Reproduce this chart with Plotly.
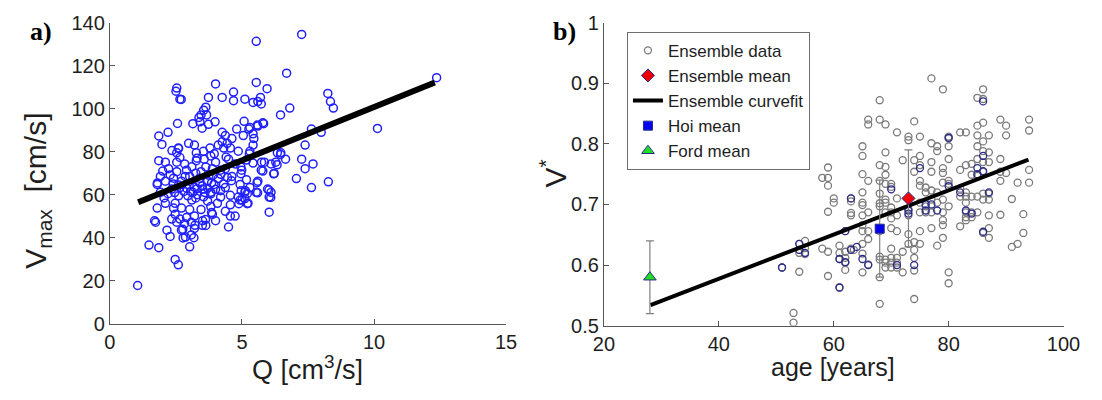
import plotly.graph_objects as go

# ---------------- data: panel a ----------------
Q_vals = [
    2.53, 2.50, 2.65, 4.00, 4.25, 3.73, 3.63, 3.55, 3.45, 3.37, 3.66, 3.14, 3.41, 3.49, 3.73, 3.98,
    2.56, 4.25, 4.25, 2.20, 1.85, 1.97, 2.59, 2.98, 3.20, 3.27, 3.54, 3.79, 4.10, 4.31, 2.53, 2.65,
    2.53, 2.83, 1.85, 2.10, 2.22, 1.91, 2.28, 2.53, 2.90, 3.27, 3.57, 3.82, 4.00, 3.63, 3.45, 3.88,
    4.19, 1.79, 2.10, 2.41, 2.71, 3.02, 3.39, 1.91, 2.34, 2.65, 3.14, 3.51, 3.82, 4.19, 3.94, 3.70,
    6.69, 5.54, 5.95, 4.68, 4.68, 5.11, 5.42, 5.60, 5.70, 5.73, 6.81, 6.46, 7.63, 7.39, 5.08, 4.80,
    5.30, 5.60, 5.82, 5.05, 4.62, 5.45, 5.42, 4.37, 4.44, 4.56, 4.86, 5.30, 4.49, 4.74, 4.37, 6.34,
    6.46, 6.65, 6.28, 6.10, 5.85, 5.73, 6.22, 7.26, 7.39, 7.69, 7.63, 7.06, 5.60, 5.17, 4.99, 4.62,
    4.93, 4.37, 5.30, 5.54, 5.97, 6.10, 4.86, 4.56, 8.00,
    1.05, 1.48, 1.85, 2.47, 2.59, 3.02, 1.69, 1.73, 1.79, 2.16, 2.28, 2.41, 2.47, 2.65, 2.90, 2.83,
    3.08, 3.20, 3.08, 2.71, 2.77, 2.53, 2.34, 2.10, 2.47, 2.71, 3.02, 3.20, 3.51, 3.63, 4.00, 3.88,
    3.45, 3.82, 4.07, 4.37, 3.82, 4.19,
    6.03, 4.49, 4.56, 4.74, 6.03, 5.11, 4.93, 5.23, 4.56, 5.11,
    5.54, 7.26, 8.25, 8.35, 8.46, 10.13, 12.37, 8.27,
    2.95, 3.10, 3.25, 2.80, 3.30, 3.55, 2.20, 2.60, 3.70, 3.00, 2.40, 3.40, 3.90, 4.10, 4.30, 2.00,
    3.10, 3.30, 4.40, 3.95, 5.26, 5.42, 5.58, 5.79, 2.70,
    5.20, 5.00, 4.88, 5.20, 5.13, 4.97, 4.96, 4.96, 5.57, 5.59, 5.74, 5.79, 5.42, 5.17, 5.28, 6.02,
    6.09, 6.20, 6.33, 6.47, 3.62, 3.50, 3.85, 3.18, 3.22, 2.76, 2.86, 3.20, 3.50, 3.70, 3.85, 3.30,
    3.60, 2.90, 3.05, 4.00, 4.20, 3.75, 2.85, 2.45, 2.60, 3.25, 2.35, 2.60, 1.80, 2.05, 4.60, 4.45,
]
Vmax_vals = [
    109.6, 108.1, 104.4, 111.5, 105.2, 105.2, 100.7, 99.3, 97.1, 95.9, 97.1, 93.0, 93.9, 90.9, 92.7, 93.9,
    93.1, 89.0, 84.6, 89.0, 87.3, 83.4, 81.7, 83.9, 83.1, 79.5, 80.2, 81.7, 83.1, 81.7, 79.5, 77.3,
    75.1, 74.3, 75.8, 75.1, 72.1, 68.5, 69.2, 70.7, 71.4, 75.8, 76.5, 78.0, 75.1, 72.9, 70.7, 72.1,
    71.4, 64.8, 66.3, 67.7, 66.3, 68.5, 67.7, 61.1, 62.6, 63.3, 61.1, 62.6, 61.1, 61.9, 64.8, 66.3,
    116.5, 112.2, 109.3, 107.7, 103.7, 104.4, 102.9, 103.3, 105.2, 102.2, 100.3, 97.1, 90.5, 83.1, 94.1, 90.5,
    91.2, 91.9, 93.0, 87.5, 86.1, 86.1, 83.1, 87.5, 83.9, 81.7, 80.2, 80.2, 76.5, 74.3, 72.1, 79.5,
    78.7, 76.5, 75.1, 74.3, 75.1, 71.4, 69.9, 76.5, 72.1, 74.3, 63.3, 67.5, 66.3, 67.0, 71.4, 68.5,
    64.8, 63.3, 63.3, 61.1, 62.6, 61.1, 58.9, 59.7, 89.0,
    17.8, 36.6, 35.4, 29.9, 27.4, 35.8, 47.9, 47.2, 53.8, 43.5, 40.6, 53.8, 50.9, 48.7, 49.4, 46.5,
    47.2, 44.3, 41.3, 43.5, 39.9, 47.2, 48.7, 56.0, 56.0, 53.8, 53.1, 50.1, 47.9, 45.7, 47.9, 50.9,
    53.1, 54.5, 56.0, 52.3, 60.4, 58.9,
    51.9, 45.0, 50.1, 50.1, 58.9, 61.1, 57.5, 56.0, 55.3, 58.2,
    131.3, 134.5, 107.1, 103.3, 100.3, 90.8, 114.4, 66.0,
    59.5, 57.5, 58.5, 61.5, 62.8, 59.0, 60.5, 59.5, 57.0, 64.5, 65.0, 65.5, 69.0, 67.5, 65.0, 71.0,
    73.0, 77.0, 77.5, 79.0, 90.5, 88.3, 92.4, 93.4, 104.3,
    55.8, 57.5, 55.8, 60.5, 61.9, 61.9, 69.8, 72.9, 65.6, 60.9, 75.1, 71.0, 74.7, 76.1, 79.1, 62.2,
    58.7, 69.7, 73.9, 79.5, 48.5, 45.8, 51.7, 40.0, 45.8, 43.9, 40.3, 63.5, 64.0, 63.0, 65.5, 60.0,
    61.0, 63.0, 61.5, 62.5, 69.5, 69.0, 68.5, 61.0, 64.5, 70.0, 80.5, 81.5, 65.5, 58.5, 66.5, 68.0,
]
fit_Q = [1.07, 12.3]
fit_Vmax = [56.5, 112.2]

# ---------------- data: panel b ----------------
age_vals = [
    51, 54, 54, 54, 55, 55, 55, 54, 53, 53,
    58, 59, 59, 59, 59, 58, 59, 59, 60, 60,
    61, 61, 62, 62, 62, 61, 61, 62, 62, 62,
    63, 63, 63, 63, 63, 63.5,
    65, 65, 65, 65, 65, 65, 65, 65, 65, 65, 65, 65,
    66, 66, 66, 66, 66, 66, 66,
    68, 68, 68, 68, 68, 68, 68, 68, 68, 68, 68, 68,
    69, 69, 69, 69, 69, 69, 69, 69, 69, 69, 69,
    70, 70, 70, 70, 70, 70, 70, 70, 70, 70,
    71, 71, 71, 71, 71, 71, 71,
    72, 72, 72,
    73, 73, 73, 73, 73, 73,
    74, 74, 74, 74, 74, 74, 74, 74,
    75, 75, 75, 75, 75, 75, 75, 75, 75,
    76, 76, 76, 76,
    77, 77, 77, 77, 77, 77, 77, 77,
    78, 78, 78, 78, 78,
    79, 79, 79, 79, 79, 79, 79, 79, 79,
    80, 80, 80, 80, 80, 80, 80, 80, 80,
    82, 82, 82, 82, 82,
    83, 83, 83, 83, 83, 83, 83, 83,
    84, 84, 84, 84, 84,
    85, 85, 85, 85, 85, 85, 85, 85,
    86, 86, 86, 86, 86, 86, 86, 86, 86, 86,
    87, 87, 87, 87, 87, 87, 87, 87,
    89, 89, 89, 89, 89,
    90, 90, 90,
    91, 91, 92, 93, 93, 92,
    94, 94, 94, 94,
]
vstar_vals = [
    0.596, 0.635, 0.625, 0.620, 0.640, 0.628, 0.618, 0.589, 0.521, 0.505,
    0.744, 0.744, 0.731, 0.761, 0.688, 0.627, 0.622, 0.582, 0.710, 0.703,
    0.632, 0.620, 0.622, 0.612, 0.604, 0.563, 0.610, 0.656, 0.592, 0.604,
    0.710, 0.705, 0.686, 0.682, 0.627, 0.625,
    0.796, 0.780, 0.750, 0.720, 0.703, 0.699, 0.682, 0.666, 0.656, 0.635, 0.619, 0.588,
    0.840, 0.832, 0.739, 0.687, 0.656, 0.643, 0.601,
    0.872, 0.840, 0.765, 0.739, 0.718, 0.702, 0.697, 0.656, 0.614, 0.609, 0.580, 0.536,
    0.832, 0.786, 0.762, 0.749, 0.734, 0.708, 0.703, 0.687, 0.609, 0.604, 0.596,
    0.734, 0.729, 0.695, 0.687, 0.661, 0.627, 0.612, 0.604, 0.596, 0.677,
    0.819, 0.710, 0.682, 0.656, 0.612, 0.604, 0.596,
    0.773, 0.622, 0.588,
    0.812, 0.806, 0.692, 0.682, 0.651, 0.635,
    0.837, 0.773, 0.754, 0.638, 0.625, 0.612, 0.591, 0.544,
    0.812, 0.780, 0.765, 0.739, 0.731, 0.703, 0.687, 0.656, 0.635,
    0.728, 0.720, 0.697, 0.687,
    0.908, 0.801, 0.770, 0.754, 0.723, 0.708, 0.687, 0.661,
    0.796, 0.788, 0.720, 0.703, 0.632,
    0.890, 0.760, 0.752, 0.736, 0.708, 0.687, 0.674, 0.666, 0.645,
    0.812, 0.809, 0.796, 0.775, 0.739, 0.734, 0.697, 0.588, 0.570,
    0.819, 0.757, 0.726, 0.713, 0.664,
    0.819, 0.765, 0.720, 0.713, 0.703, 0.687, 0.679, 0.674,
    0.767, 0.749, 0.713, 0.687, 0.679,
    0.876, 0.830, 0.814, 0.796, 0.775, 0.747, 0.713, 0.687,
    0.890, 0.874, 0.835, 0.804, 0.788, 0.770, 0.754, 0.718, 0.708, 0.653,
    0.814, 0.786, 0.770, 0.718, 0.708, 0.682, 0.661, 0.645,
    0.840, 0.775, 0.754, 0.739, 0.683,
    0.814, 0.830, 0.752,
    0.709, 0.630, 0.635, 0.684, 0.653, 0.736,
    0.840, 0.822, 0.757, 0.736,
]
hoi_age = [51, 54, 54, 55, 61, 61, 62, 62, 63, 63, 64, 65, 66, 70, 71, 73, 73, 74, 75, 76, 76,
           77, 78, 80, 80, 82, 83, 84, 85, 85, 86, 86, 86, 86, 87]
hoi_vstar = [0.596, 0.635, 0.625, 0.620, 0.563, 0.610, 0.605, 0.656, 0.625, 0.710, 0.630, 0.610,
             0.600, 0.725, 0.600, 0.690, 0.685, 0.600, 0.760, 0.690, 0.700, 0.700, 0.690, 0.810,
             0.730, 0.720, 0.690, 0.685, 0.750, 0.760, 0.755, 0.780, 0.870, 0.655, 0.720]
fit_age = [28.1, 93.9]
fit_vstar = [0.534, 0.774]
ens_mean_age, ens_mean_v, ens_mean_err = [73], [0.71], [0.08]
hoi_mean_age, hoi_mean_v, hoi_mean_err = [68], [0.66], [0.08]
ford_mean_age, ford_mean_v, ford_mean_err = [28], [0.58], [0.06]

W, H = 1102, 400
TXT = "#1e1e1e"
AX = "#555555"
FONT = "Liberation Sans, Arial, sans-serif"

fig = go.Figure()

# panel a
fig.add_trace(go.Scatter(x=Q_vals, y=Vmax_vals, mode="markers", xaxis="x", yaxis="y",
                         marker=dict(symbol="circle-open", size=8, color="#2020ff",
                                     line=dict(width=1.5, color="#2020ff")),
                         showlegend=False))
fig.add_trace(go.Scatter(x=fit_Q, y=fit_Vmax, mode="lines", xaxis="x", yaxis="y",
                         line=dict(color="black", width=6), showlegend=False))

# panel b
fig.add_trace(go.Scatter(x=age_vals, y=vstar_vals, mode="markers", xaxis="x2", yaxis="y2",
                         name="Ensemble data", legendrank=1,
                         marker=dict(symbol="circle-open", size=7, color="#7a7a7a",
                                     line=dict(width=1.3, color="#7a7a7a"))))
fig.add_trace(go.Scatter(x=hoi_age, y=hoi_vstar, mode="markers", xaxis="x2", yaxis="y2",
                         showlegend=False,
                         marker=dict(symbol="circle-open", size=7, color="#2a2a8a",
                                     line=dict(width=1.3, color="#2a2a8a"))))
fig.add_trace(go.Scatter(x=fit_age, y=fit_vstar, mode="lines", xaxis="x2", yaxis="y2",
                         name="Ensemble curvefit", legendrank=3,
                         line=dict(color="black", width=4)))
for ax_, ay_, err_ in [(ens_mean_age, ens_mean_v, ens_mean_err),
                       (hoi_mean_age, hoi_mean_v, hoi_mean_err),
                       (ford_mean_age, ford_mean_v, ford_mean_err)]:
    fig.add_trace(go.Scatter(x=ax_, y=ay_, mode="markers", xaxis="x2", yaxis="y2",
                             showlegend=False, marker=dict(size=2, color="rgba(0,0,0,0)"),
                             error_y=dict(type="data", array=err_, color="#808080",
                                          thickness=1.2, width=4)))
fig.add_trace(go.Scatter(x=ens_mean_age, y=ens_mean_v, mode="markers", xaxis="x2", yaxis="y2",
                         name="Ensemble mean", legendrank=2,
                         marker=dict(symbol="diamond", size=10, color="#ee0000",
                                     line=dict(width=1, color="#2a2a8a"))))
fig.add_trace(go.Scatter(x=hoi_mean_age, y=hoi_mean_v, mode="markers", xaxis="x2", yaxis="y2",
                         name="Hoi mean", legendrank=4,
                         marker=dict(symbol="square", size=9, color="#0000ee",
                                     line=dict(width=1, color="#2a2a8a"))))
fig.add_trace(go.Scatter(x=ford_mean_age, y=ford_mean_v, mode="markers", xaxis="x2", yaxis="y2",
                         name="Ford mean", legendrank=5,
                         marker=dict(symbol="triangle-up", size=11, color="#22dd22",
                                     line=dict(width=1, color="#2a2a8a"))))

axis_common = dict(showline=True, linecolor=AX, linewidth=1.2, mirror=False, ticks="inside",
                   ticklen=5, tickcolor=AX, showgrid=False, zeroline=False,
                   tickfont=dict(family=FONT, size=20, color=TXT))

L0, L1 = 101.5 / W, 508 / W
R0, R1 = 608.4 / W, 1080 / W
fig.update_layout(
    width=W, height=H, margin=dict(l=0, r=0, t=0, b=0),
    paper_bgcolor="white", plot_bgcolor="white",
    xaxis=dict(domain=[L0, L1], range=[0, 15], tickvals=[0, 5, 10, 15], anchor="y", **axis_common),
    yaxis=dict(domain=[(H - 331) / H, (H - 12.3) / H], range=[0, 140],
               tickvals=[0, 20, 40, 60, 80, 100, 120, 140], anchor="x", **axis_common),
    xaxis2=dict(domain=[R0, R1], range=[20, 100], tickvals=[20, 40, 60, 80, 100], anchor="y2",
                **axis_common),
    yaxis2=dict(domain=[(H - 333) / H, (H - 12.3) / H], range=[0.5, 1],
                tickvals=[0.5, 0.6, 0.7, 0.8, 0.9, 1.0],
                ticktext=["0.5", "0.6", "0.7", "0.8", "0.9", "1"], anchor="x2", **axis_common),
    legend=dict(x=632 / W, y=1 - 22 / H, xanchor="left", yanchor="top",
                bgcolor="white", bordercolor="#6e6e6e", borderwidth=1,
                font=dict(family=FONT, size=17, color=TXT), tracegroupgap=0, itemwidth=30),
    showlegend=True,
)

ann = [
    dict(text="<b>a)</b>", x=31 / W, y=1 - 22 / H, font=dict(family="Liberation Serif, Times New Roman, serif", size=26, color="black")),
    dict(text="<b>b)</b>", x=568 / W, y=1 - 22 / H, font=dict(family="Liberation Serif, Times New Roman, serif", size=26, color="black")),
    dict(text="V<sub>max</sub>  [cm/s]", x=27 / W, y=1 - 190 / H, textangle=-90,
         font=dict(family=FONT, size=30, color=TXT)),
    dict(text="Q [cm<sup>3</sup>/s]", x=304 / W, y=1 - 378 / H,
         font=dict(family=FONT, size=27, color=TXT)),
    dict(text="age [years]", x=843 / W, y=1 - 377 / H,
         font=dict(family=FONT, size=25, color=TXT)),
    dict(text="V<sup>*</sup>", x=556 / W, y=1 - 172 / H, textangle=-90,
         font=dict(family=FONT, size=30, color=TXT)),
]
for a in ann:
    a.update(xref="paper", yref="paper", showarrow=False, xanchor="center", yanchor="middle")
fig.update_layout(annotations=ann)

fig.write_html("out.html")
